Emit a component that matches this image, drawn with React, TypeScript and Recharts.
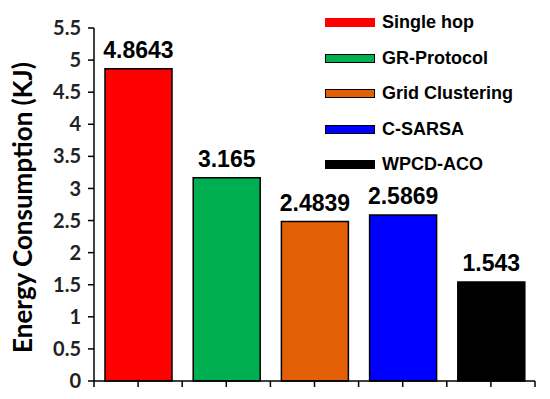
import { BarChart, Bar, XAxis, YAxis, Cell, LabelList } from "recharts";

const methods = ["Single hop", "GR-Protocol", "Grid Clustering", "C-SARSA", "WPCD-ACO"];
const energy = [4.8643, 3.165, 2.4839, 2.5869, 1.543];
const colors = ["#FF0000", "#00B050", "#E36009", "#0000FF", "#000000"];
const yTicks = [0, 0.5, 1, 1.5, 2, 2.5, 3, 3.5, 4, 4.5, 5, 5.5];
const xTicks = [0, 0.5, 1, 1.5, 2, 2.5, 3, 3.5, 4, 4.5, 5];

const data = methods.map((name, i) => ({ name, pos: i + 0.5, value: energy[i] }));

const YLabel = ({ viewBox }: any) => {
  const cx = 32;
  const cy = viewBox.y + viewBox.height / 2 + 3;
  return (
    <text
      x={cx}
      y={cy}
      transform={`rotate(-90, ${cx}, ${cy})`}
      textAnchor="middle"
      fontFamily="Lato"
      fontWeight="bold"
      fontSize={26}
      fill="#000"
    >
      Energy Consumption (KJ)
    </text>
  );
};

export default function App() {
  return (
    <div style={{ position: "fixed", left: 0, top: 0, width: 550, height: 399, background: "#fff" }}>
      <BarChart width={550} height={399} data={data} margin={{ top: 28, right: 15, bottom: 8, left: 0 }}>
        <XAxis
          dataKey="pos"
          type="number"
          domain={[0, 5]}
          ticks={xTicks}
          tickFormatter={() => ""}
          height={10}
          tickSize={6}
          axisLine={{ stroke: "#000", strokeWidth: 1.5 }}
          tickLine={{ stroke: "#000", strokeWidth: 1.5 }}
          interval={0}
        />
        <YAxis
          domain={[0, 5.5]}
          ticks={yTicks}
          interval={0}
          width={94}
          tickSize={6}
          tickMargin={7}
          axisLine={{ stroke: "#000", strokeWidth: 1.5 }}
          tickLine={{ stroke: "#000", strokeWidth: 1.5 }}
          tick={{ fontFamily: "Lato", fontWeight: "bold", fontSize: 20, fill: "#222" }}
          label={<YLabel />}
        />
        <Bar dataKey="value" barSize={67} stroke="#000" strokeWidth={1.5} isAnimationActive={false}>
          {data.map((d, i) => (
            <Cell key={d.name} fill={colors[i]} />
          ))}
          <LabelList
            dataKey="value"
            position="top"
            offset={11}
            style={{ fontFamily: "Liberation Sans, Arial", fontWeight: "bold", fontSize: 23, fill: "#000" }}
          />
        </Bar>
      </BarChart>
      <div style={{ position: "absolute", left: 325, top: 5, fontFamily: "Liberation Sans, Arial", fontWeight: "bold", fontSize: 18 }}>
        {methods.map((m, i) => (
          <div key={m} style={{ display: "flex", alignItems: "center", height: 35.5 }}>
            <div
              style={{
                width: 50,
                height: 9,
                boxSizing: "border-box",
                background: colors[i],
                border: i === 0 ? "none" : "1.5px solid #000",
                marginRight: 7,
              }}
            />
            <span>{m}</span>
          </div>
        ))}
      </div>
    </div>
  );
}
